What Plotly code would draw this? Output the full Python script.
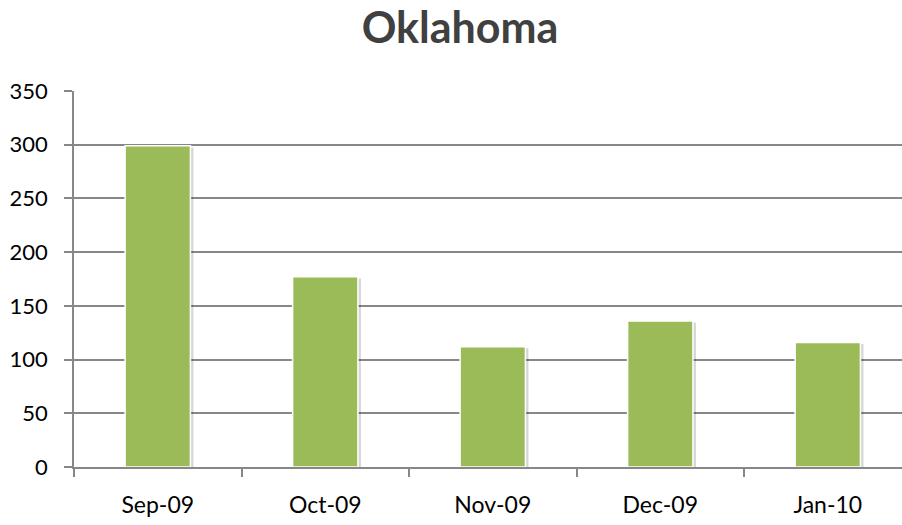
import plotly.graph_objects as go

# Monthly values for Oklahoma
months = ["Sep-09", "Oct-09", "Nov-09", "Dec-09", "Jan-10"]
values = [299, 177, 112, 136, 116]
y_ticks = [0, 50, 100, 150, 200, 250, 300, 350]

bar_green = "#9BBB59"
grid_grey = "#878787"
font_family = "Lato, 'Open Sans', sans-serif"
bar_width = 0.39

fig = go.Figure()

# soft drop shadow behind each column
fig.add_trace(go.Bar(
    x=months,
    y=[v - 1.5 for v in values],
    base=0,
    width=bar_width,
    offset=-bar_width / 2 + 0.018,
    marker=dict(color="rgba(0,0,0,0.16)", line=dict(width=0)),
    hoverinfo="skip",
))

fig.add_trace(go.Bar(
    x=months,
    y=values,
    width=bar_width,
    offset=-bar_width / 2,
    marker=dict(color=bar_green, line=dict(color="white", width=1.5)),
    hoverinfo="x+y",
))

fig.update_layout(
    width=902,
    height=525,
    barmode="overlay",
    paper_bgcolor="white",
    plot_bgcolor="white",
    margin=dict(l=74, r=0, t=91, b=58),
    showlegend=False,
    title=dict(
        text="<b>Oklahoma</b>",
        x=460 / 902,
        xanchor="center",
        y=1 - 28 / 525,
        yanchor="middle",
        font=dict(family=font_family, size=43, color="#404040"),
    ),
    font=dict(family=font_family, size=23, color="#000000"),
)

fig.update_xaxes(
    type="category",
    range=[-0.5, 4.443],
    automargin=False,
    showline=True,
    linecolor=grid_grey,
    linewidth=1.5,
    ticks="outside",
    tickson="boundaries",
    ticklen=8,
    tickwidth=1.5,
    tickcolor=grid_grey,
    ticklabelstandoff=17,
    showgrid=False,
    tickfont=dict(family=font_family, size=23, color="#000000"),
)

fig.update_yaxes(
    range=[0, 350],
    tickvals=y_ticks,
    automargin=False,
    showline=True,
    linecolor=grid_grey,
    linewidth=1.5,
    ticks="outside",
    ticklen=8,
    tickwidth=1.5,
    tickcolor=grid_grey,
    showgrid=True,
    gridcolor=grid_grey,
    gridwidth=1.5,
    zeroline=False,
    ticklabelstandoff=12,
    tickfont=dict(family=font_family, size=22, color="#000000"),
)

fig.write_html("out.html")
